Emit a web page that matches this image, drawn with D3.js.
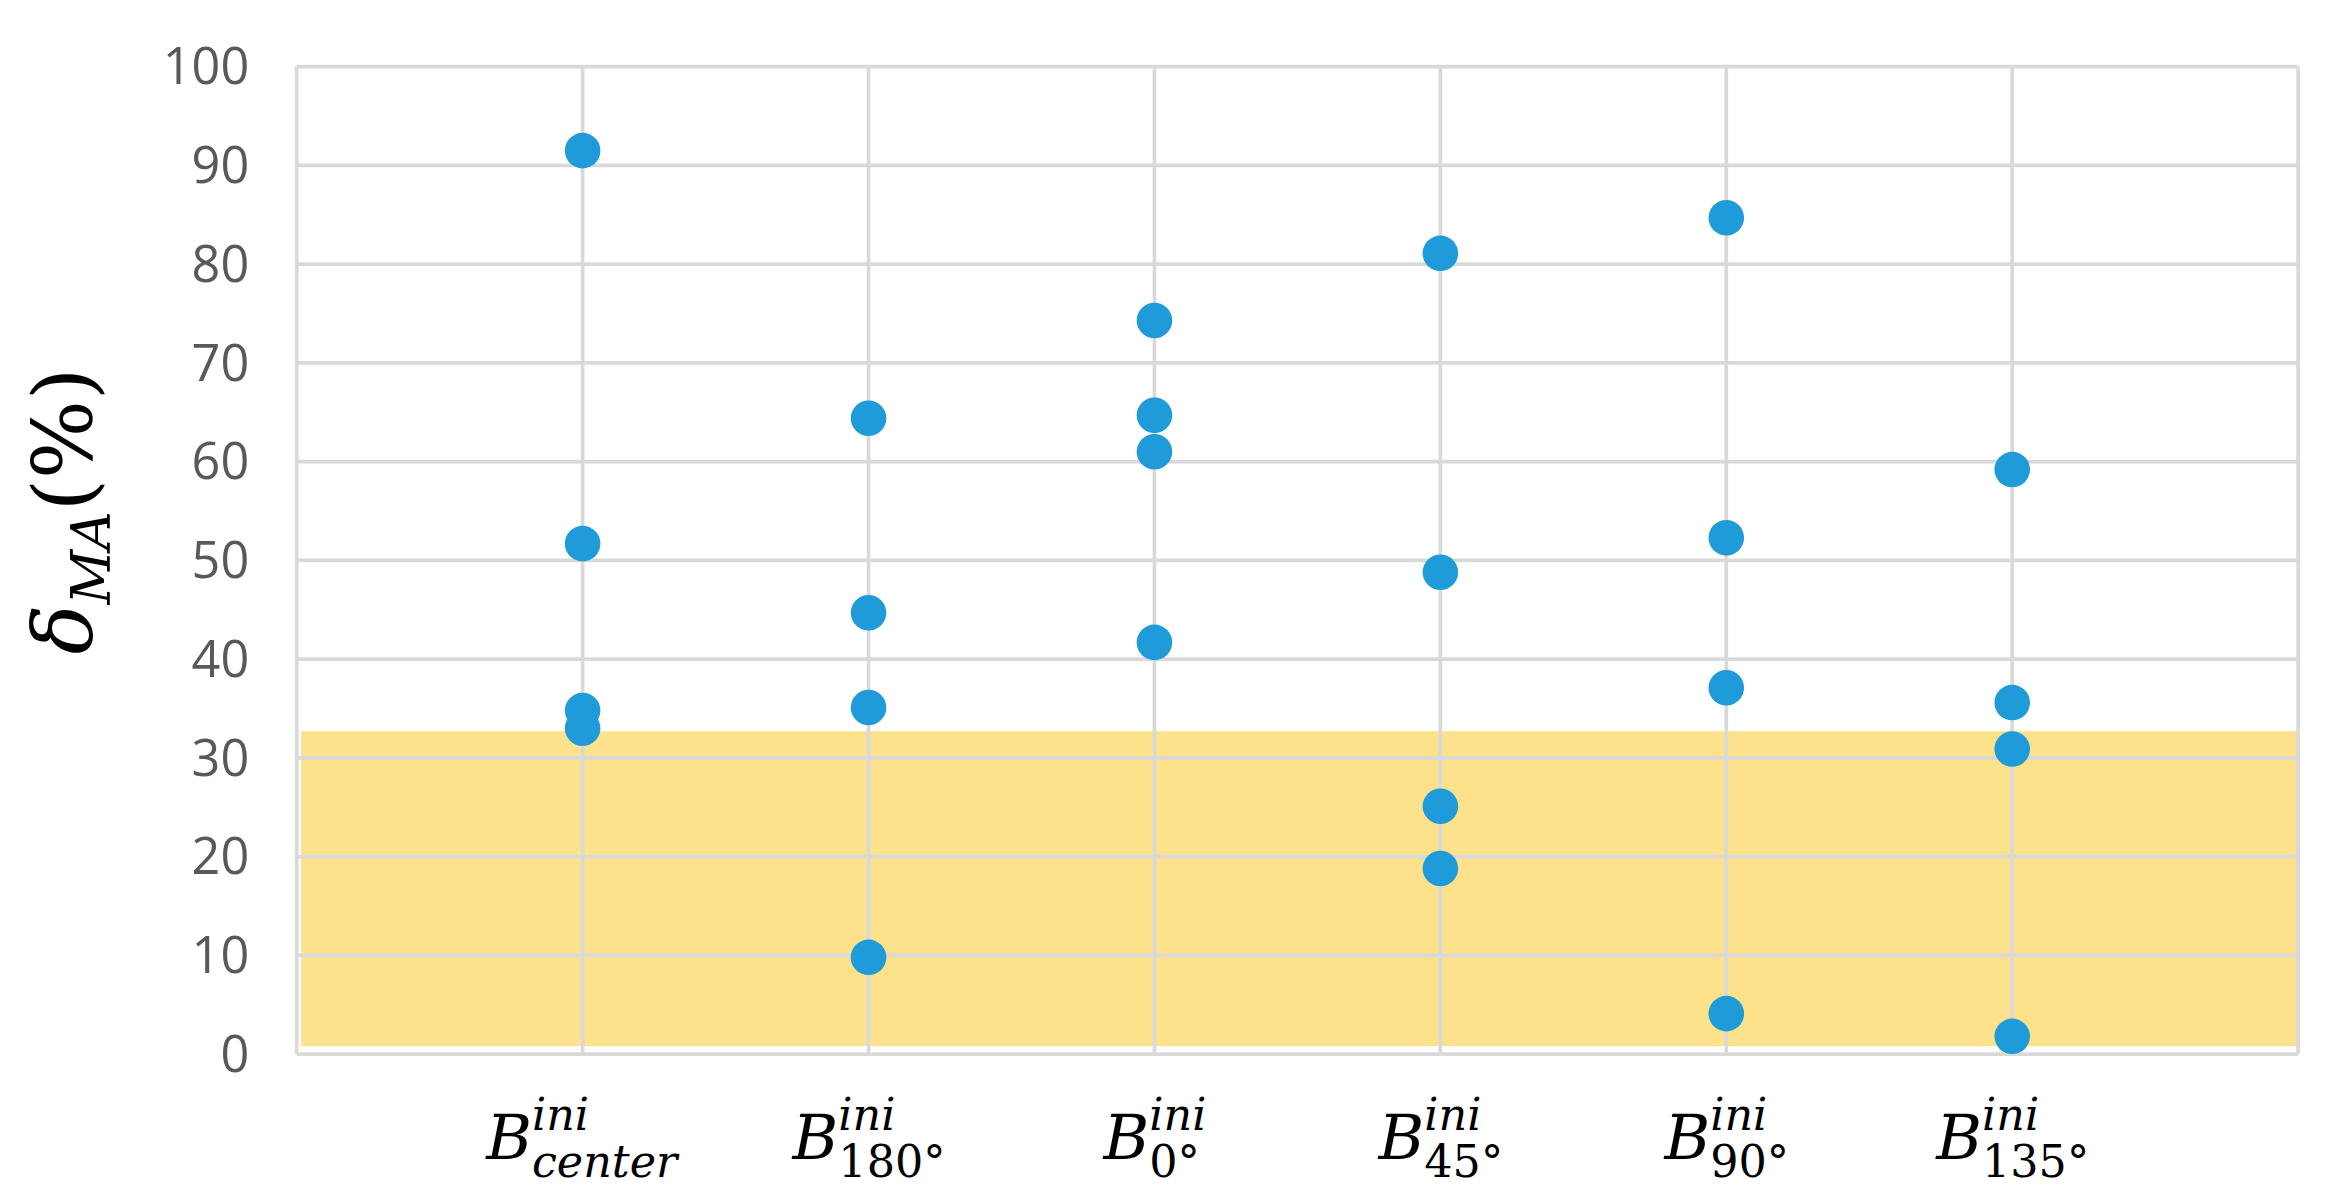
<!DOCTYPE html>
<html><head><meta charset="utf-8">
<script src="https://cdn.jsdelivr.net/npm/d3@7"></script>
<style>body{margin:0;background:#fff}</style>
</head><body><div id="chart"></div>
<script>
const categories = ["center", "180°", "0°", "45°", "90°", "135°"];
const seriesValues = [
  [91.5, 51.7, 34.8, 33.0],
  [64.4, 44.7, 35.1, 9.8],
  [74.3, 64.7, 61.0, 41.7],
  [81.1, 48.8, 25.1, 18.8],
  [84.7, 52.3, 37.1, 4.1],
  [59.2, 35.6, 30.9, 1.8]
];
const yTicks = [0, 10, 20, 30, 40, 50, 60, 70, 80, 90, 100];
const band = [0.8, 32.7];

const W = 2325, H = 1189;
// drawn in a 1568-wide coordinate space, scaled to the window
const svg = d3.select("#chart").append("svg")
  .attr("width", W).attr("height", H)
  .attr("viewBox", "0 0 1568 802");

const x = d3.scaleLinear().domain([0, 7]).range([200, 1550]);
const y = d3.scaleLinear().domain([0, 100]).range([711, 45]);

// highlighted band
svg.append("rect")
  .attr("x", x(0) + 3).attr("width", x(7) - x(0) - 3)
  .attr("y", y(band[1])).attr("height", y(band[0]) - y(band[1]))
  .attr("fill", "#fde28b");

// grid
svg.selectAll(".hg").data(yTicks).enter().append("line")
  .attr("x1", x(0)).attr("x2", x(7))
  .attr("y1", d => y(d)).attr("y2", d => y(d))
  .attr("stroke", "#d9d9d9").attr("stroke-width", 2.5);
svg.selectAll(".vg").data(d3.range(0, 8)).enter().append("line")
  .attr("x1", d => x(d)).attr("x2", d => x(d))
  .attr("y1", y(0)).attr("y2", y(100))
  .attr("stroke", "#d9d9d9").attr("stroke-width", 2.5);

// y tick labels
svg.selectAll(".yt").data(yTicks).enter().append("text")
  .attr("x", 168).attr("y", d => y(d)).attr("dy", "0.35em")
  .attr("text-anchor", "end")
  .style("font", "34px 'Open Sans', sans-serif").attr("fill", "#595959")
  .text(d => d);

// y axis title
const yt = svg.append("text")
  .attr("transform", `translate(62,${y(55)}) rotate(-90)`)
  .attr("text-anchor", "middle")
  .style("font-family", "'DejaVu Serif', serif").attr("fill", "#000");
yt.append("tspan").style("font-size", "56px").style("font-style", "italic").text("δ");
yt.append("tspan").style("font-size", "36px").style("font-style", "italic").attr("dy", 12).text("MA");
yt.append("tspan").style("font-size", "56px").attr("dy", -12).text("(%)");

// category labels: B with stacked superscript "ini" and subscript
categories.forEach((c, i) => {
  const g = svg.append("text")
    .attr("x", x(i + 1)).attr("y", 782)
    .attr("text-anchor", "middle")
    .style("font-family", "'DejaVu Serif', serif").style("font-style", "italic").attr("fill", "#000");
  g.append("tspan").style("font-size", "42px").text("B");
  const sup = g.append("tspan").style("font-size", "30px").attr("dy", -20).text("ini");
  const sub = g.append("tspan").style("font-size", "30px").attr("dy", 32)
    .style("font-style", c === "center" ? "italic" : "normal").text(c);
  const supW = sup.node().getComputedTextLength();
  sub.attr("dx", -supW);
  // re-center the whole label using its bounding box
  const bb = g.node().getBBox();
  g.attr("text-anchor", "start").attr("x", x(i + 1));
  const bb2 = g.node().getBBox();
  g.attr("x", x(i + 1) - bb2.width / 2 - (bb2.x - x(i + 1)) + 0);
});

// points
const pts = seriesValues.flatMap((vals, i) => vals.map(v => ({ i, v })));
svg.selectAll(".pt").data(pts).enter().append("circle")
  .attr("cx", d => x(d.i + 1)).attr("cy", d => y(d.v))
  .attr("r", 12).attr("fill", "#1f9bd9");
</script>
</body></html>
